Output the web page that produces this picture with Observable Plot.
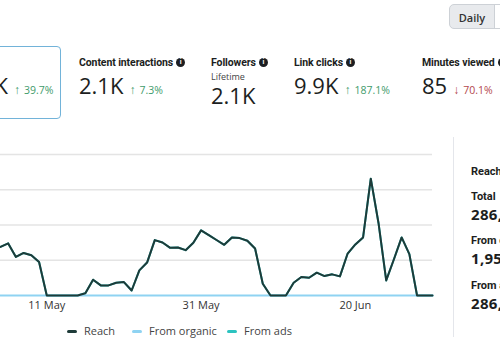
<!DOCTYPE html>
<html>
<head>
<meta charset="utf-8">
<script src="https://cdn.jsdelivr.net/npm/d3@7"></script>
<script src="https://cdn.jsdelivr.net/npm/@observablehq/plot@0.6"></script>
<style>
  html, body { margin: 0; padding: 0; background: #fff; }
  body { width: 500px; height: 350px; overflow: hidden; position: relative; font-family: "Open Sans", sans-serif; color: #1c1e21; }
  .abs { position: absolute; white-space: nowrap; line-height: 1; }
  .lbl { font-family: Roboto, sans-serif; font-size: 10.5px; font-weight: 700; color: #1c1e21; letter-spacing: -0.1px; }
  .big { font-size: 22px; font-weight: 400; color: #1c1e21; }
  .up { font-size: 10.5px; color: #3f9b6b; }
  .down { font-size: 10.5px; color: #b3474d; }
  .arr { font-size: 12px; margin-right: 4px; }
  .info { display: inline-block; width: 9px; height: 9px; border-radius: 50%; background: #1c1e21; color: #fff; font-size: 7px; line-height: 9px; text-align: center; vertical-align: top; margin-left: 3px; font-weight: 700; }
  .leg { font-size: 11px; color: #444; }
  .sw { position: absolute; height: 3px; border-radius: 2px; }
  .rp { font-family: Roboto, sans-serif; font-size: 11px; font-weight: 700; color: #1c1e21; }
  .rn { font-size: 15px; font-weight: 700; color: #1c1e21; letter-spacing: 0.3px; }
</style>
</head>
<body>
<div id="root"></div>
<script>
// ---- data ----
const startDate = "2024-05-05";
const endDate = "2024-06-30";
const reach = [
  6900, 7390, 5470, 6040, 5710, 4760, 0, 0, 0, 0, 0, 330, 2240, 1430, 1430, 1810, 1900, 710, 3570, 4670,
  7860, 7520, 6760, 6810, 6430, 7470, 9240,
  8560, 7870, 7190, 8240, 8140, 7760, 6670, 1670, 0, 0, 0, 1810, 2620, 2520, 3240, 2760, 3000, 2710,
  5950, 7240, 8240, 16570, 10290, 2140, 5140, 8240, 5860, 0, 0, 0
];
const organic = [
  0, 0, 0, 0, 0, 0, 0, 0, 0, 0, 0, 0, 0, 0, 0, 0, 0, 0, 0, 0,
  0, 0, 0, 0, 0, 0, 0,
  0, 0, 0, 0, 0, 0, 0, 0, 0, 0, 0, 0, 0, 0, 0, 0, 0, 0,
  0, 0, 0, 0, 0, 0, 0, 0, 0, 0, 0, 0
];
const ads = reach;
const seriesNames = ["Reach", "From organic", "From ads"];
const seriesColors = ["#1e3b39", "#8fd3f2", "#2cc3c0"];
const xTickLabels = ["2024-05-11", "2024-05-31", "2024-06-20"];
const yTicks = [5000, 10000, 15000, 20000];

const metrics = [
  {label: "Reach", value: "286K", change: "39.7%", dir: "up", sub: null},
  {label: "Content interactions", value: "2.1K", change: "7.3%", dir: "up", sub: null},
  {label: "Followers", value: "2.1K", change: null, dir: null, sub: "Lifetime"},
  {label: "Link clicks", value: "9.9K", change: "187.1%", dir: "up", sub: null},
  {label: "Minutes viewed", value: "85", change: "70.1%", dir: "down", sub: null}
];
const breakdownTitle = "Reach breakdown";
const breakdown = [
  {label: "Total", value: "286,4"},
  {label: "From organic", value: "1,956"},
  {label: "From ads", value: "286,4"}
];

// ---- build ----
const dates = d3.utcDays(new Date(startDate), d3.utcDay.offset(new Date(endDate), 1));
const rows = (vals) => vals.map((v, i) => ({date: dates[i], value: v}));
const root = document.getElementById("root");
function add(html, cls, left, top, extra = "") {
  const d = document.createElement("div");
  d.className = "abs " + cls;
  d.style.left = left + "px";
  d.style.top = top + "px";
  if (extra) d.style.cssText += extra;
  d.innerHTML = html;
  root.appendChild(d);
  return d;
}

// Daily button
add("Daily", "", 449, 4, "width:46px;height:25px;line-height:25px;text-align:center;font-size:11px;font-weight:600;color:#333;background:#e8eaed;border:1px solid #cdd1d6;border-radius:5px 0 0 5px;box-sizing:border-box;");
add("Weekly", "", 494, 4, "width:50px;height:25px;line-height:25px;text-align:center;font-size:11px;color:#333;background:#fff;border:1px solid #cdd1d6;box-sizing:border-box;");

// Selected card
add("", "", -70, 46, "width:131px;height:73px;border:1.5px solid #72b3d9;border-radius:4px;box-sizing:border-box;");

const mx = [-52, 79, 211, 294, 422];
metrics.forEach((m, i) => {
  const x = mx[i];
  add(m.label + '<span class="info">i</span>', "lbl", x, 58, "height:11px;");
  let bigTop = 73.5;
  if (m.sub) {
    add(m.sub, "", x, 71.5, "font-size:9px;color:#444;height:9px;");
    bigTop = 83.5;
  }
  let bigEl;
  if (i === 0) {
    bigEl = add(m.value, "big", -60, bigTop, "width:68px;text-align:right;");
  } else {
    bigEl = add(m.value, "big", x, bigTop);
  }
  if (m.change) {
    const w = i === 0 ? 8 : bigEl.getBoundingClientRect().width + x;
    add('<span class="arr">' + (m.dir === "up" ? "↑" : "↓") + '</span>' + m.change, m.dir, w + 6, 83.5);
  }
});

// Chart
const chart = Plot.plot({
  width: 440,
  height: 180,
  marginLeft: 0,
  marginRight: 8,
  marginTop: 14,
  marginBottom: 25,
  style: {fontFamily: "Open Sans", fontSize: "11px", color: "#333", background: "transparent", overflow: "visible"},
  x: {
    type: "utc",
    domain: [dates[0], dates[dates.length - 1]],
    ticks: xTickLabels.map(s => new Date(s)),
    tickFormat: d3.utcFormat("%-d %b"),
    tickSize: 0,
    tickPadding: 6,
    label: null
  },
  y: {domain: [0, 20000], axis: null},
  marks: [
    Plot.gridY(yTicks, {stroke: "#e4e4e4", strokeOpacity: 1, strokeWidth: 1.5}),
    Plot.lineY(rows(ads), {x: "date", y: "value", stroke: seriesColors[2], strokeWidth: 2}),
    Plot.lineY(rows(organic), {x: "date", y: "value", stroke: seriesColors[1], strokeWidth: 2}),
    Plot.lineY(rows(reach), {x: "date", y: "value", stroke: seriesColors[0], strokeWidth: 2, strokeLinejoin: "round"})
  ]
});
chart.style.position = "absolute";
chart.style.left = "0px";
chart.style.top = "140px";
root.appendChild(chart);

// Legend
const legX = [67, 132, 227];
seriesNames.forEach((n, i) => {
  const s = document.createElement("div");
  s.className = "sw";
  s.style.left = legX[i] + "px";
  s.style.top = "330px";
  s.style.width = "10px";
  s.style.background = seriesColors[i];
  root.appendChild(s);
  add(n, "leg", legX[i] + 17, 325);
});

// Right panel
add("", "", 453, 137, "width:1px;height:200px;background:#e4e6eb;");
add(breakdownTitle, "rp", 471, 166);
const by = [190.5, 234.5, 279.5];
breakdown.forEach((b, i) => {
  add(b.label, "rp", 471, by[i]);
  add(b.value, "rn", 471, by[i] + 16);
});
</script>
</body>
</html>
